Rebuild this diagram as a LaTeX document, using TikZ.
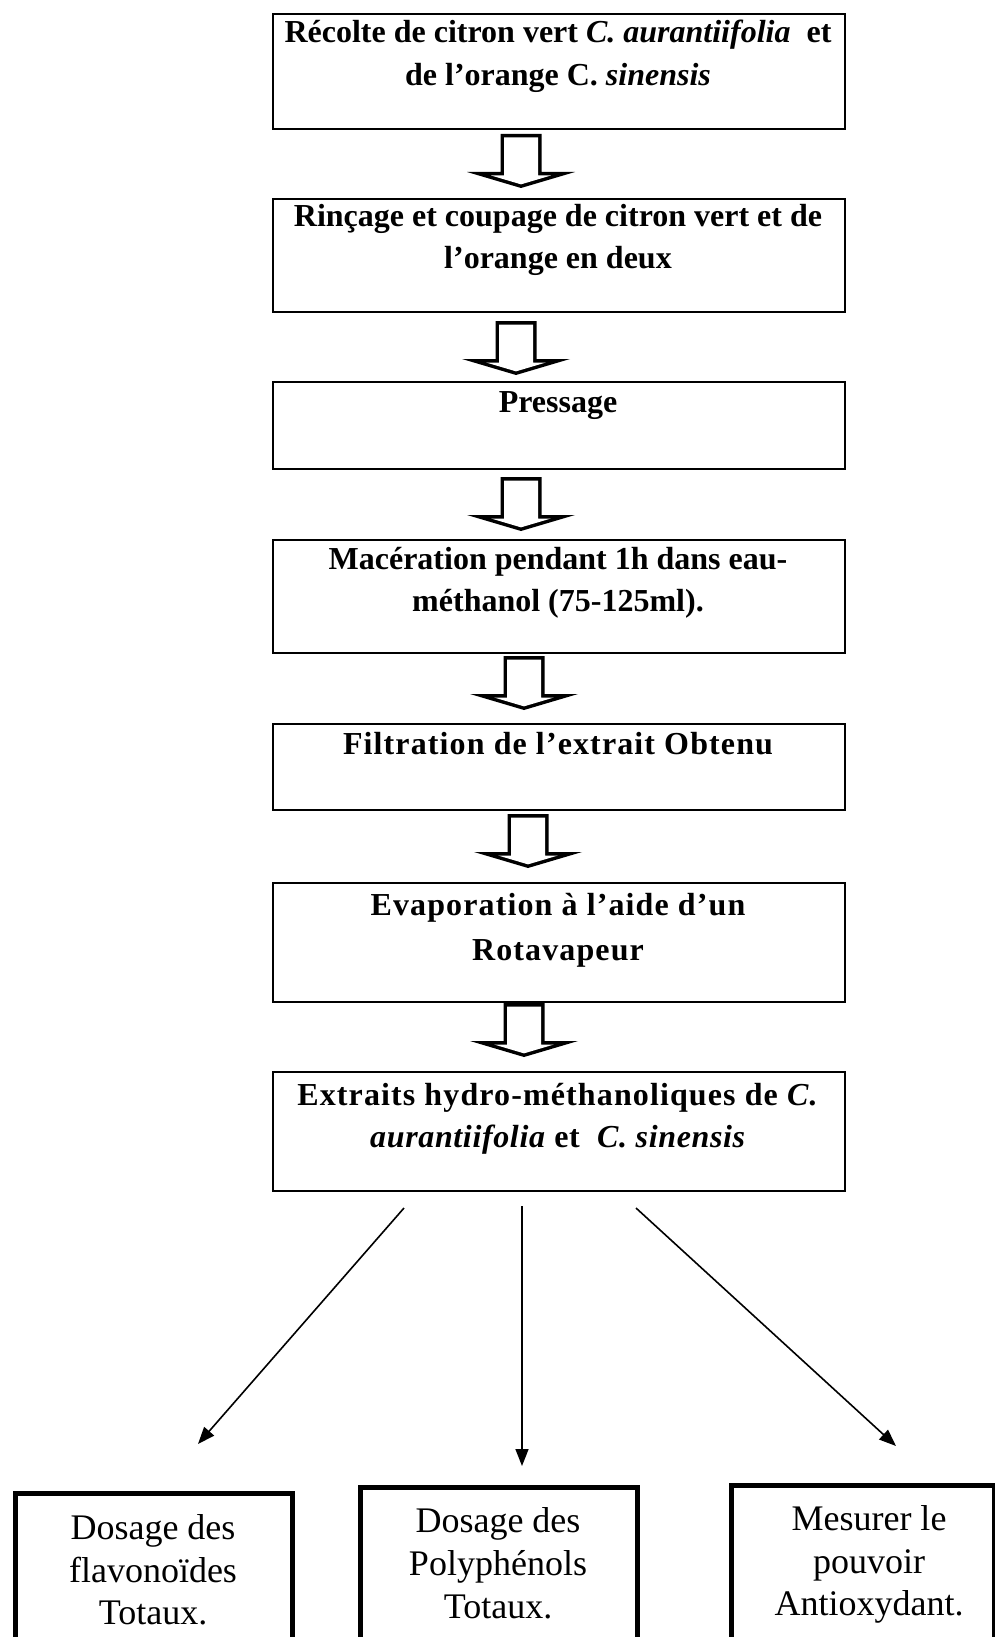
\documentclass[tikz,border=0pt]{standalone}
\usepackage{fontspec}
\setmainfont{Liberation Serif}
\usetikzlibrary{arrows.meta}
\newcommand{\wide}[1]{{\addfontfeature{LetterSpace=3.5}#1}}
\newcommand{\semiwide}[1]{{\addfontfeature{LetterSpace=2}#1}}
\tikzset{
  stepbox/.style={draw, line width=2pt, anchor=north west, inner sep=0pt, minimum width=572pt},
  steptext/.style={anchor=base, inner sep=0pt, font=\fontsize{32pt}{40pt}\selectfont\bfseries},
  endbox/.style={draw, line width=5pt, anchor=north west, inner sep=0pt},
  endtext/.style={anchor=base, inner sep=0pt, font=\fontsize{36pt}{43pt}\selectfont},
  link/.style={line width=1.6pt, -{Triangle[length=17pt,width=13pt]}},
  blockarr/.pic={
    \fill[black] (-20.5,0) -- (20.5,0) -- (20.5,38) -- (54,38) -- (0,54) -- (-54,38) -- (-20.5,38) -- cycle;
    \fill[white] (-17,3.5) -- (17,3.5) -- (17,41.5) -- (29.9,41.5) -- (0,50.35) -- (-29.9,41.5) -- (-17,41.5) -- cycle;}
}
\begin{document}
\begin{tikzpicture}[x=1pt,y=-1pt]
\useasboundingbox (0,0) rectangle (995,1637);
\clip (0,0) rectangle (995,1637);
\fill[white] (0,0) rectangle (995,1637);

\node[stepbox, minimum height=115pt] (b1) at (272,13) {};
\node[steptext] (t1a) at (558,43) {Récolte de citron vert \textit{C. aurantiifolia}\ \ et};
\node[steptext] (t1b) at (558,86) {de l’orange C. \textit{sinensis}};
\pic at (521,134) {blockarr};

\node[stepbox, minimum height=113pt] (b2) at (272,198) {};
\node[steptext] (t2a) at (558,227) {Rinçage et coupage de citron vert et de};
\node[steptext] (t2b) at (558,269) {l’orange en deux};
\pic at (516,321) {blockarr};

\node[stepbox, minimum height=87pt] (b3) at (272,381) {};
\node[steptext] (t3a) at (558,412) {Pressage};
\pic at (521,477) {blockarr};

\node[stepbox, minimum height=113pt] (b4) at (272,539) {};
\node[steptext] (t4a) at (558,569) {Macération pendant 1h dans eau-};
\node[steptext] (t4b) at (558,611) {méthanol (75-125ml).};
\pic at (524,656) {blockarr};

\node[stepbox, minimum height=86pt] (b5) at (272,723) {};
\node[steptext] (t5a) at (558,754) {\wide{Filtration de l’extrait Obtenu}};
\pic at (528,814) {blockarr};

\node[stepbox, minimum height=119pt] (b6) at (272,882) {};
\node[steptext] (t6a) at (558,915) {\wide{Evaporation à l’aide d’un}};
\node[steptext] (t6b) at (558,960) {\wide{Rotavapeur}};
\pic at (524,1003) {blockarr};

\node[stepbox, minimum height=119pt] (b7) at (272,1071) {};
\node[steptext] (t7a) at (558,1105) {\wide{Extraits hydro-méthanoliques de \textit{C.}}};
\node[steptext] (t7b) at (558,1147) {\semiwide{\textit{aurantiifolia} et\ \ \textit{C. sinensis}}};

\node[endbox, minimum width=277pt, minimum height=200pt] (d1) at (13,1491) {};
\node[endtext] (u1a) at (153,1539) {Dosage des};
\node[endtext] (u1b) at (153,1582) {flavonoïdes};
\node[endtext] (u1c) at (153,1624) {Totaux.};

\node[endbox, minimum width=277pt, minimum height=200pt] (d2) at (358,1485) {};
\node[endtext] (u2a) at (498,1532) {Dosage des};
\node[endtext] (u2b) at (498,1575) {Polyphénols};
\node[endtext] (u2c) at (498,1618) {Totaux.};

\node[endbox, minimum width=263pt, minimum height=200pt] (d3) at (729,1483) {};
\node[endtext] (u3a) at (869,1530) {Mesurer le};
\node[endtext] (u3b) at (869,1573) {pouvoir};
\node[endtext] (u3c) at (869,1615) {Antioxydant.};

\coordinate (s1) at (404,1208);
\coordinate (e1) at (198,1444);
\coordinate (s2) at (522,1206);
\coordinate (e2) at (522,1466);
\coordinate (s3) at (636,1208);
\coordinate (e3) at (896,1446);
\draw[link] (s1) -- (e1);
\draw[link] (s2) -- (e2);
\draw[link] (s3) -- (e3);
\end{tikzpicture}
\end{document}
